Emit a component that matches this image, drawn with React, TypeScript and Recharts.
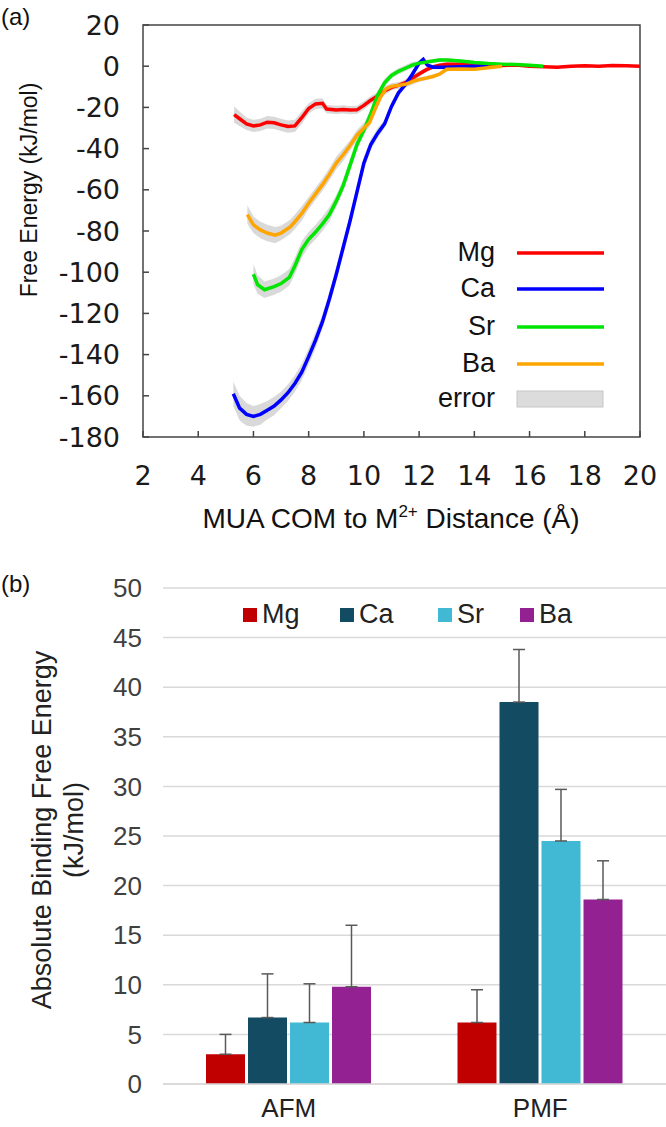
import React from "react";
import {
  Area,
  Bar,
  BarChart,
  CartesianGrid,
  ComposedChart,
  ErrorBar,
  Line,
  ReferenceArea,
  XAxis,
  YAxis,
} from "recharts";

// ---- panel (a): free energy profiles ----
const mgDist = [5.3, 5.5, 5.75, 6.0, 6.25, 6.5, 6.75, 7.0, 7.25, 7.5, 7.75, 8.0, 8.25, 8.5, 8.65, 9.0, 9.25, 9.5, 9.75, 10.0, 10.25, 10.5, 10.75, 11.0, 11.25, 11.5, 11.75, 12.0, 12.25, 12.5, 12.75, 13.0, 13.5, 14.0, 14.5, 15.0, 15.5, 16.0, 16.5, 17.0, 17.5, 18.0, 18.5, 19.0, 19.5, 20.0];
const mgEnergy = [-23.5, -25.5, -28, -29, -28.5, -27.2, -27.5, -28.5, -29.3, -29, -25, -20.5, -18.3, -18, -20.8, -21.2, -21, -21.3, -21.2, -19, -16.5, -14.5, -12, -10.3, -9.3, -8, -5.8, -3.8, -1.8, -0.3, 0.5, 0.9, 1, 0.5, 0.8, 0.3, 0.6, 0, -0.3, -0.5, 0, 0.2, 0, 0.3, 0.2, 0];
const mgError = [4, 3.5, 3, 3, 3, 3, 3, 3, 3, 3, 3, 2.5, 2.5, 2.5, 2, 2, 2, 2, 2, 2, 2, 2, 2, 1.5, 1.5, 1.5, 1.5, 1.5, 1, 1, 1, 1, 0.8, 0.5, 0.5, 0.5, 0.5, 0.5, 0.5, 0.5, 0.5, 0.5, 0.5, 0.5, 0.5, 0.5];

const caDist = [5.27, 5.5, 5.75, 6.0, 6.25, 6.5, 6.75, 7.0, 7.25, 7.5, 7.75, 8.0, 8.25, 8.5, 8.75, 9.0, 9.25, 9.5, 9.75, 10.0, 10.25, 10.5, 10.75, 11.0, 11.25, 11.5, 11.75, 12.0, 12.15, 12.3, 12.5, 13.0, 13.5, 14.0, 14.5];
const caEnergy = [-159, -166, -169, -170, -169, -167, -165, -162, -158.5, -154, -148.5, -141, -133, -124, -113, -101, -88, -75, -61, -47, -38, -32.5, -28, -19.5, -13, -9, -4, 1.5, 3.3, 0.5, -0.5, -0.5, -0.3, 0, 0];
const caError = [6, 6, 5.5, 5, 5, 4.5, 4.5, 4, 4, 4, 4, 4, 4, 3.5, 3.5, 3.5, 3, 3, 3, 3, 2.5, 2.5, 2, 2, 2, 1.5, 1.5, 1.5, 1, 1, 1, 1, 0.8, 0.5, 0.5];

const srDist = [6.0, 6.15, 6.4, 6.75, 7.0, 7.3, 7.5, 7.75, 8.0, 8.25, 8.5, 8.75, 9.0, 9.25, 9.5, 9.75, 10.0, 10.25, 10.5, 10.75, 11.0, 11.25, 11.5, 11.75, 12.0, 12.5, 12.75, 13.0, 13.5, 14.0, 14.5, 15.0, 15.5, 16.0, 16.5];
const srEnergy = [-101, -106, -108.5, -107, -105.5, -102.5, -97, -89, -84, -80.5, -76.5, -72, -65.5, -58, -48, -38, -31, -23, -14, -8, -4.5, -2.5, -1, 0.5, 1.5, 2.5, 3, 3, 2.5, 1.8, 1.3, 1, 0.8, 0.5, 0];
const srError = [5, 4.5, 4, 4, 4, 4, 4, 4, 3.5, 3.5, 3.5, 3.5, 3, 3, 3, 3, 2.5, 2.5, 2, 2, 1.5, 1.5, 1.5, 1.5, 1, 1, 1, 1, 0.8, 0.8, 0.5, 0.5, 0.5, 0.5, 0.5];

const baDist = [5.78, 6.0, 6.25, 6.5, 6.78, 7.0, 7.33, 7.5, 7.75, 8.0, 8.25, 8.5, 8.75, 9.0, 9.25, 9.5, 9.75, 10.0, 10.2, 10.4, 10.6, 10.8, 11.0, 11.25, 11.5, 11.75, 12.0, 12.25, 12.5, 12.75, 13.0, 13.5, 14.0, 14.5, 15.0];
const baEnergy = [-72, -77, -79.5, -81, -82, -81, -78, -75.5, -71.5, -66.5, -62, -57.5, -52.5, -47, -43, -38.5, -33.5, -30, -27.5, -21, -15, -11, -9.8, -9.3, -8.8, -7.5, -6.5, -5.8, -5, -3.8, -1.5, -1.3, -1.5, -0.8, 0];
const baError = [4.5, 4, 4, 4, 4, 3.5, 3.5, 3.5, 3.5, 3, 3, 3, 3, 3, 3, 2.5, 2.5, 2.5, 2, 2, 2, 1.5, 1.5, 1.5, 1.5, 1.5, 1, 1, 1, 1, 1, 0.8, 0.8, 0.5, 0.5];

const distanceTicks = [2, 4, 6, 8, 10, 12, 14, 16, 18, 20];
const energyTicks = [20, 0, -20, -40, -60, -80, -100, -120, -140, -160, -180];

// ---- panel (b): absolute binding free energy ----
const methods = ["AFM", "PMF"];
const mgBind = [3.0, 6.2];
const mgBindErr = [2.0, 3.3];
const caBind = [6.7, 38.5];
const caBindErr = [4.4, 5.3];
const srBind = [6.2, 24.5];
const srBindErr = [3.9, 5.2];
const baBind = [9.8, 18.6];
const baBindErr = [6.2, 3.9];
const bindTicks = [0, 5, 10, 15, 20, 25, 30, 35, 40, 45, 50];

const lineColors = { Mg: "#ff0000", Ca: "#0000ff", Sr: "#00e600", Ba: "#ffa500" };
const barColors = { Mg: "#c00000", Ca: "#134b63", Sr: "#41b9d4", Ba: "#942192" };

function curve(xs: number[], ys: number[], es: number[]) {
  return xs.map((x, i) => ({ x, y: ys[i], band: [ys[i] - es[i], ys[i] + es[i]] }));
}

const mgCurve = curve(mgDist, mgEnergy, mgError);
const caCurve = curve(caDist, caEnergy, caError);
const srCurve = curve(srDist, srEnergy, srError);
const baCurve = curve(baDist, baEnergy, baError);

const bindRows = methods.map((m, i) => ({
  method: m,
  Mg: mgBind[i],
  MgErr: [0, mgBindErr[i]],
  Ca: caBind[i],
  CaErr: [0, caBindErr[i]],
  Sr: srBind[i],
  SrErr: [0, srBindErr[i]],
  Ba: baBind[i],
  BaErr: [0, baBindErr[i]],
}));

const tickFontA = { fontFamily: "DejaVu Sans", fontSize: 27, fill: "#1a1a1a" };
const tickFontB = { fontFamily: "Liberation Sans", fontSize: 26, fill: "#404040" };

function FreeEnergyChart() {
  const curves = [
    { name: "Mg", data: mgCurve },
    { name: "Ca", data: caCurve },
    { name: "Sr", data: srCurve },
    { name: "Ba", data: baCurve },
  ];
  return (
    <ComposedChart width={666} height={545} margin={{ top: 25, right: 26, bottom: 0, left: 0 }}>
      <XAxis
        type="number"
        dataKey="x"
        domain={[2, 20]}
        ticks={distanceTicks}
        height={108}
        axisLine={false}
        tickSize={-6}
        tickMargin={35}
        tickLine={{ stroke: "#444", strokeWidth: 1.5 }}
        tick={tickFontA}
        allowDataOverflow
      />
      <YAxis
        type="number"
        domain={[-180, 20]}
        ticks={energyTicks}
        width={143}
        axisLine={false}
        tickSize={-6}
        tickMargin={29}
        tickLine={{ stroke: "#444", strokeWidth: 1.5 }}
        tick={tickFontA}
        allowDataOverflow
      />
      <YAxis
        yAxisId="r"
        orientation="right"
        type="number"
        domain={[-180, 20]}
        ticks={energyTicks}
        width={0}
        axisLine={false}
        tickSize={-6}
        tickLine={{ stroke: "#444", strokeWidth: 1.5 }}
        tick={false}
      />
      {curves.map((c) => (
        <Area
          key={c.name + "-err"}
          data={c.data}
          dataKey="band"
          type="linear"
          stroke="none"
          fill="#d2d2d2"
          fillOpacity={0.85}
          isAnimationActive={false}
        />
      ))}
      {curves.map((c) => (
        <Line
          key={c.name}
          data={c.data}
          dataKey="y"
          type="linear"
          stroke={lineColors[c.name as keyof typeof lineColors]}
          strokeWidth={3.5}
          dot={false}
          isAnimationActive={false}
        />
      ))}
      <ReferenceArea x1={2} x2={20} y1={-180} y2={20} fill="none" stroke="#444" strokeWidth={1.5} />
    </ComposedChart>
  );
}

function BindingChart() {
  const ions = ["Mg", "Ca", "Sr", "Ba"] as const;
  return (
    <BarChart
      width={666}
      height={567}
      data={bindRows}
      margin={{ top: 28, right: 0, bottom: 0, left: 0 }}
      barCategoryGap={43}
      barGap={3}
    >
      <CartesianGrid vertical={false} stroke="#d9d9d9" strokeWidth={1.5} />
      <XAxis
        dataKey="method"
        height={43}
        axisLine={{ stroke: "#d9d9d9", strokeWidth: 1.5 }}
        tickLine={false}
        tickSize={0}
        tickMargin={15}
        tick={{ ...tickFontB, fill: "#222" }}
      />
      <YAxis
        domain={[0, 50]}
        ticks={bindTicks}
        width={163}
        axisLine={false}
        tickLine={false}
        tickSize={0}
        tickMargin={21}
        tick={tickFontB}
      />
      {ions.map((ion) => (
        <Bar key={ion} dataKey={ion} fill={barColors[ion]} isAnimationActive={false}>
          <ErrorBar dataKey={ion + "Err"} width={6} stroke="#595959" strokeWidth={1.5} isAnimationActive={false} />
        </Bar>
      ))}
    </BarChart>
  );
}

function Overlay() {
  const rows = [
    { name: "Mg", y: 252 },
    { name: "Ca", y: 288 },
    { name: "Sr", y: 326 },
    { name: "Ba", y: 363 },
  ];
  const legendB = [
    { name: "Mg", x: 243 },
    { name: "Ca", x: 340 },
    { name: "Sr", x: 438 },
    { name: "Ba", x: 520 },
  ];
  return (
    <svg width={666} height={1127} style={{ position: "absolute", left: 0, top: 0, pointerEvents: "none" }}>
      <g fontFamily="Liberation Sans" fill="#111">
        <text x={1} y={25} fontSize={24}>(a)</text>
        <text transform="translate(37,190) rotate(-90)" textAnchor="middle" fontSize={23}>
          Free Energy (kJ/mol)
        </text>
        <text x={391} y={528} textAnchor="middle" fontSize={28}>
          MUA COM to M<tspan fontSize={17} dy={-11}>2+</tspan>
          <tspan dy={11}> Distance (Å)</tspan>
        </text>
        {rows.map((r) => (
          <g key={r.name}>
            <text x={495} y={r.y} textAnchor="end" dominantBaseline="central" fontSize={27}>
              {r.name}
            </text>
            <line x1={517} x2={604} y1={r.y + 1} y2={r.y + 1} stroke={lineColors[r.name as keyof typeof lineColors]} strokeWidth={3.5} />
          </g>
        ))}
        <text x={495} y={398} textAnchor="end" dominantBaseline="central" fontSize={27}>
          error
        </text>
        <rect x={517} y={391} width={86} height={16} fill="#dcdcdc" stroke="#c6c6c6" strokeWidth={1} />

        <text x={1} y={592} fontSize={24}>(b)</text>
        <text transform="translate(51,830) rotate(-90)" textAnchor="middle" fontSize={27} fill="#222">
          Absolute Binding Free Energy
        </text>
        <text transform="translate(83,830) rotate(-90)" textAnchor="middle" fontSize={27} fill="#222">
          (kJ/mol)
        </text>
        {legendB.map((l) => (
          <g key={l.name}>
            <rect x={l.x} y={608} width={14} height={14} fill={barColors[l.name as keyof typeof barColors]} />
            <text x={l.x + 19} y={614} dominantBaseline="central" fontSize={27} fill="#222">
              {l.name}
            </text>
          </g>
        ))}
      </g>
    </svg>
  );
}

export default function App() {
  return (
    <div style={{ position: "absolute", left: 0, top: 0, width: 666, height: 1127, background: "#fff" }}>
      <div style={{ position: "absolute", left: 0, top: 0 }}>
        <FreeEnergyChart />
      </div>
      <div style={{ position: "absolute", left: 0, top: 560 }}>
        <BindingChart />
      </div>
      <Overlay />
    </div>
  );
}
